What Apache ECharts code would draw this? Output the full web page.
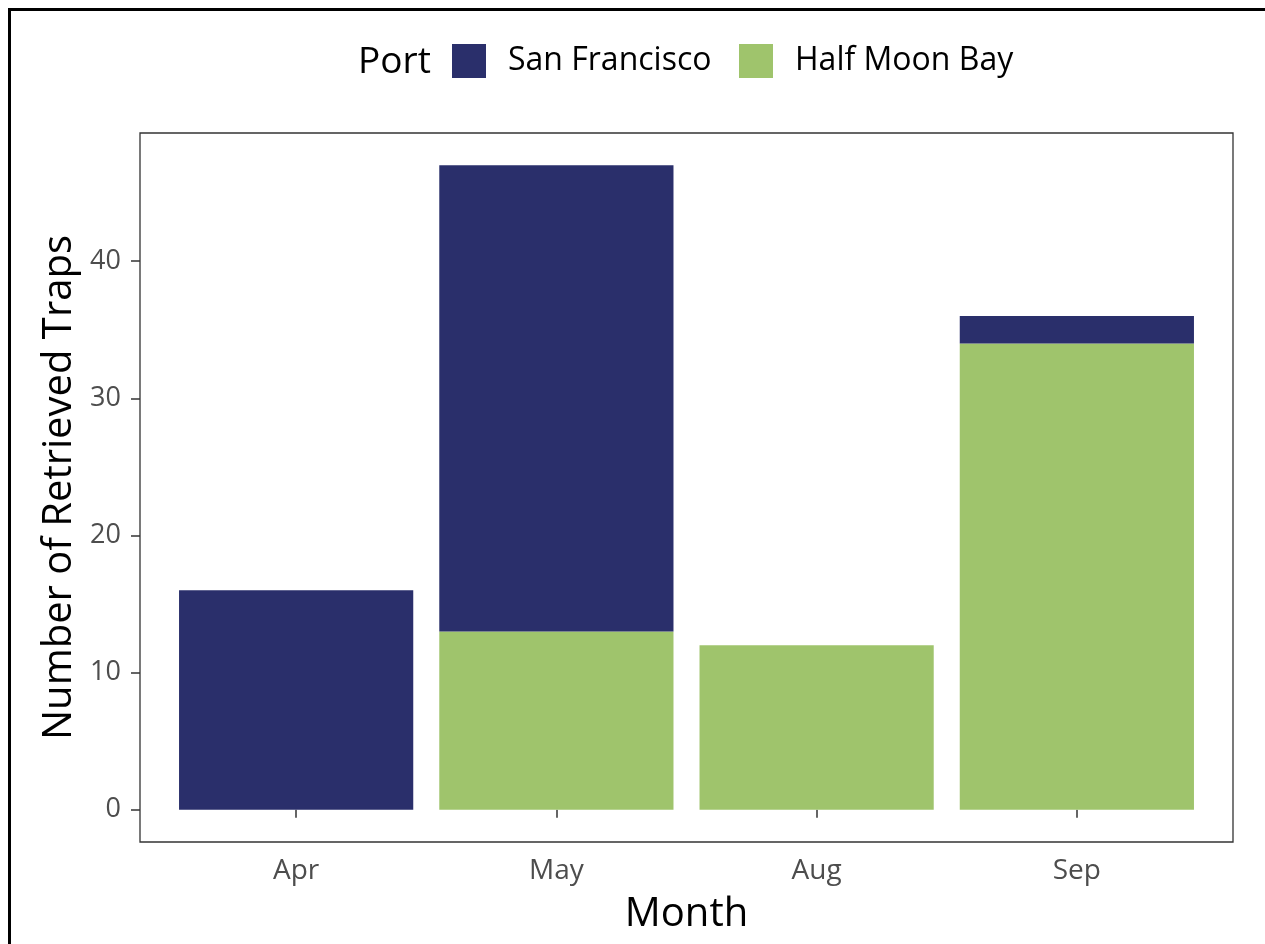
<!DOCTYPE html>
<html>
<head>
<meta charset="utf-8">
<script src="https://cdn.jsdelivr.net/npm/echarts@6/dist/echarts.min.js"></script>
<style>
html,body{margin:0;padding:0;background:#fff;}
#chart{width:1265px;height:944px;}
</style>
</head>
<body>
<div id="chart"></div>
<script>
const months = ['Apr', 'May', 'Aug', 'Sep'];
const sanFrancisco = [16, 34, 0, 2];
const halfMoonBay = [0, 13, 12, 34];
const yTicks = [0, 10, 20, 30, 40];
const legendTitle = 'Port';
const xTitle = 'Month';
const yTitle = 'Number of Retrieved Traps';

const FONT = '"Open Sans", sans-serif';

// Panel frame (ggplot panel incl. 0.6-category expansion on each side)
const PANEL = {left: 140, top: 133, width: 1093, height: 709};
const unit = PANEL.width / (months.length + 0.2);   // width of one category
const innerLeft = PANEL.left + 0.1 * unit;

const chart = echarts.init(document.getElementById('chart'), null, {renderer: 'canvas'});
chart.setOption({
  backgroundColor: '#ffffff',
  animation: false,
  grid: [
    {
      left: PANEL.left, top: PANEL.top, width: PANEL.width, height: PANEL.height,
      show: true, borderColor: '#333333', borderWidth: 1.3, backgroundColor: '#ffffff', z: 0
    },
    {
      left: innerLeft, top: PANEL.top, width: unit * months.length, height: PANEL.height,
      show: false
    }
  ],
  xAxis: {
    gridIndex: 1,
    type: 'category', data: months,
    axisLine: {show: false},
    splitLine: {show: false},
    axisTick: {show: true, alignWithLabel: true, length: 8, lineStyle: {color: '#333333', width: 1.5}},
    axisLabel: {margin: 15, color: '#4D4D4D', fontSize: 28, fontFamily: FONT},
    name: xTitle, nameLocation: 'middle', nameGap: 53,
    nameTextStyle: {color: '#000000', fontSize: 40, fontFamily: FONT}
  },
  yAxis: {
    gridIndex: 1,
    type: 'value', min: -2.35, max: 49.35,
    offset: innerLeft - PANEL.left,
    axisLine: {show: false},
    splitLine: {show: false},
    axisTick: {show: true, customValues: yTicks, length: 9, lineStyle: {color: '#333333', width: 1.5}},
    axisLabel: {customValues: yTicks, margin: 19, color: '#4D4D4D', fontSize: 27, fontFamily: FONT},
    name: yTitle, nameLocation: 'middle', nameGap: 57, nameRotate: 90,
    nameTextStyle: {color: '#000000', fontSize: 40, fontFamily: FONT}
  },
  legend: [
    {
      data: ['San Francisco'], left: 452, top: 44, padding: 0,
      itemWidth: 34, itemHeight: 34, icon: 'rect',
      textStyle: {fontSize: 32, fontFamily: FONT, color: '#000000', padding: [2, 0, 0, 17]}
    },
    {
      data: ['Half Moon Bay'], left: 739, top: 44, padding: 0,
      itemWidth: 34, itemHeight: 34, icon: 'rect',
      textStyle: {fontSize: 32, fontFamily: FONT, color: '#000000', padding: [2, 0, 0, 17]}
    }
  ],
  graphic: [
    {
      type: 'text', left: 358, top: 44,
      style: {text: legendTitle, fontSize: 37, fontFamily: FONT, fill: '#000000'}
    },
    {
      type: 'rect', silent: true, z: 100,
      shape: {x: 9.5, y: 9.5, width: 2000, height: 2000},
      style: {fill: 'none', stroke: '#000000', lineWidth: 3}
    }
  ],
  series: [
    {
      name: 'Half Moon Bay', type: 'bar', stack: 'total',
      xAxisIndex: 0, yAxisIndex: 0,
      barWidth: '90%', itemStyle: {color: '#9FC46C'},
      data: halfMoonBay
    },
    {
      name: 'San Francisco', type: 'bar', stack: 'total',
      xAxisIndex: 0, yAxisIndex: 0,
      barWidth: '90%', itemStyle: {color: '#2A2F6B'},
      data: sanFrancisco
    }
  ]
});
</script>
</body>
</html>
